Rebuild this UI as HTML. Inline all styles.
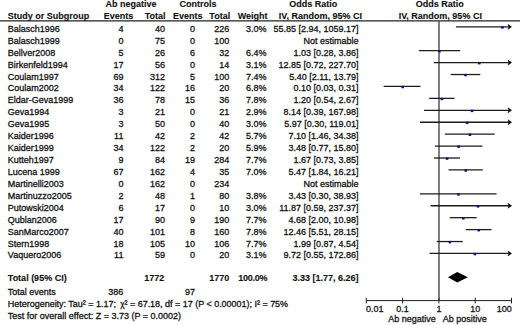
<!DOCTYPE html>
<html><head><meta charset="utf-8"><style>
html,body{margin:0;padding:0;background:#fff;}
body{width:520px;height:325px;overflow:hidden;}
svg{display:block;}
text{font-family:"Liberation Sans",sans-serif;font-size:9.0px;fill:#111;stroke:#111;stroke-width:0.28px;}
text[font-weight=bold]{stroke-width:0.12px;}
</style></head><body>
<svg width="520" height="325" viewBox="0 0 520 325">
<line x1="0" y1="20.8" x2="520" y2="20.8" stroke="#222" stroke-width="1.3"/>
<line x1="439.00" y1="20.8" x2="439.00" y2="300.60" stroke="#555" stroke-width="1.5"/>
<line x1="366.30" y1="300.60" x2="511.50" y2="300.60" stroke="#222" stroke-width="1"/>
<line x1="366.30" y1="297.80" x2="366.30" y2="303.40" stroke="#222" stroke-width="1"/>
<line x1="402.60" y1="297.80" x2="402.60" y2="303.40" stroke="#222" stroke-width="1"/>
<line x1="438.90" y1="297.80" x2="438.90" y2="303.40" stroke="#222" stroke-width="1"/>
<line x1="475.20" y1="297.80" x2="475.20" y2="303.40" stroke="#222" stroke-width="1"/>
<line x1="511.50" y1="297.80" x2="511.50" y2="303.40" stroke="#222" stroke-width="1"/>
<line x1="455.90" y1="26.80" x2="510.00" y2="26.80" stroke="#1c1c1c" stroke-width="1.3"/>
<path d="M508.00,24.40 L511.50,26.80 L508.00,29.20 L509.20,26.80 Z" fill="#000" stroke="#000" stroke-width="0.6" stroke-linejoin="round"/>
<rect x="501.12" y="26.20" width="2.6" height="2.4" fill="#10107e"/>
<line x1="418.83" y1="50.66" x2="460.19" y2="50.66" stroke="#1c1c1c" stroke-width="1.3"/>
<rect x="438.17" y="50.06" width="2.6" height="2.4" fill="#10107e"/>
<line x1="433.72" y1="62.59" x2="510.00" y2="62.59" stroke="#1c1c1c" stroke-width="1.3"/>
<path d="M508.00,60.19 L511.50,62.59 L508.00,64.99 L509.20,62.59 Z" fill="#000" stroke="#000" stroke-width="0.6" stroke-linejoin="round"/>
<rect x="477.95" y="61.99" width="2.6" height="2.4" fill="#10107e"/>
<line x1="450.67" y1="74.52" x2="480.27" y2="74.52" stroke="#1c1c1c" stroke-width="1.3"/>
<rect x="464.29" y="73.92" width="2.6" height="2.4" fill="#10107e"/>
<line x1="383.62" y1="86.45" x2="420.44" y2="86.45" stroke="#1c1c1c" stroke-width="1.3"/>
<rect x="401.40" y="85.85" width="2.6" height="2.4" fill="#10107e"/>
<line x1="429.19" y1="98.38" x2="454.38" y2="98.38" stroke="#1c1c1c" stroke-width="1.3"/>
<rect x="440.57" y="97.78" width="2.6" height="2.4" fill="#10107e"/>
<line x1="424.06" y1="110.31" x2="510.00" y2="110.31" stroke="#1c1c1c" stroke-width="1.3"/>
<path d="M508.00,107.91 L511.50,110.31 L508.00,112.71 L509.20,110.31 Z" fill="#000" stroke="#000" stroke-width="0.6" stroke-linejoin="round"/>
<rect x="470.76" y="109.71" width="2.6" height="2.4" fill="#10107e"/>
<line x1="419.92" y1="122.24" x2="510.00" y2="122.24" stroke="#1c1c1c" stroke-width="1.3"/>
<path d="M508.00,119.84 L511.50,122.24 L508.00,124.64 L509.20,122.24 Z" fill="#000" stroke="#000" stroke-width="0.6" stroke-linejoin="round"/>
<rect x="465.87" y="121.64" width="2.6" height="2.4" fill="#10107e"/>
<line x1="444.87" y1="134.17" x2="494.67" y2="134.17" stroke="#1c1c1c" stroke-width="1.3"/>
<rect x="468.60" y="133.57" width="2.6" height="2.4" fill="#10107e"/>
<line x1="434.78" y1="146.10" x2="482.41" y2="146.10" stroke="#1c1c1c" stroke-width="1.3"/>
<rect x="457.36" y="145.50" width="2.6" height="2.4" fill="#10107e"/>
<line x1="433.94" y1="158.03" x2="460.15" y2="158.03" stroke="#1c1c1c" stroke-width="1.3"/>
<rect x="445.78" y="157.43" width="2.6" height="2.4" fill="#10107e"/>
<line x1="448.51" y1="169.96" x2="482.82" y2="169.96" stroke="#1c1c1c" stroke-width="1.3"/>
<rect x="464.49" y="169.36" width="2.6" height="2.4" fill="#10107e"/>
<line x1="419.92" y1="193.82" x2="496.63" y2="193.82" stroke="#1c1c1c" stroke-width="1.3"/>
<rect x="457.13" y="193.22" width="2.6" height="2.4" fill="#10107e"/>
<line x1="430.58" y1="205.75" x2="510.00" y2="205.75" stroke="#1c1c1c" stroke-width="1.3"/>
<path d="M508.00,203.35 L511.50,205.75 L508.00,208.15 L509.20,205.75 Z" fill="#000" stroke="#000" stroke-width="0.6" stroke-linejoin="round"/>
<rect x="476.70" y="205.15" width="2.6" height="2.4" fill="#10107e"/>
<line x1="449.83" y1="217.68" x2="476.67" y2="217.68" stroke="#1c1c1c" stroke-width="1.3"/>
<rect x="462.03" y="217.08" width="2.6" height="2.4" fill="#10107e"/>
<line x1="465.80" y1="229.61" x2="491.52" y2="229.61" stroke="#1c1c1c" stroke-width="1.3"/>
<rect x="477.47" y="229.01" width="2.6" height="2.4" fill="#10107e"/>
<line x1="436.70" y1="241.54" x2="462.75" y2="241.54" stroke="#1c1c1c" stroke-width="1.3"/>
<rect x="448.55" y="240.94" width="2.6" height="2.4" fill="#10107e"/>
<line x1="429.48" y1="253.47" x2="510.00" y2="253.47" stroke="#1c1c1c" stroke-width="1.3"/>
<path d="M508.00,251.07 L511.50,253.47 L508.00,255.87 L509.20,253.47 Z" fill="#000" stroke="#000" stroke-width="0.6" stroke-linejoin="round"/>
<rect x="473.55" y="252.87" width="2.6" height="2.4" fill="#10107e"/>
<path d="M447.90,277.30 L457.26,272.10 L467.82,277.30 L457.26,282.50 Z" fill="#000"/>
<text x="105.50" y="6.80" font-weight="bold">Ab negative</text>
<text x="179.50" y="6.80" font-weight="bold">Controls</text>
<text x="313.30" y="6.80" text-anchor="middle" font-weight="bold">Odds Ratio</text>
<text x="439.70" y="6.80" text-anchor="middle" font-weight="bold">Odds Ratio</text>
<text x="7.80" y="18.60" font-weight="bold">Study or Subgroup</text>
<text x="133.20" y="18.60" text-anchor="end" font-weight="bold">Events</text>
<text x="165.50" y="18.60" text-anchor="end" font-weight="bold">Total</text>
<text x="202.60" y="18.60" text-anchor="end" font-weight="bold">Events</text>
<text x="230.20" y="18.60" text-anchor="end" font-weight="bold">Total</text>
<text x="267.60" y="18.60" text-anchor="end" font-weight="bold">Weight</text>
<text x="362.00" y="18.60" text-anchor="end" font-weight="bold">IV, Random, 95% CI</text>
<text x="440.30" y="18.60" text-anchor="middle" font-weight="bold">IV, Random, 95% CI</text>
<text x="7.80" y="31.80">Balasch1996</text>
<text x="123.40" y="31.80" text-anchor="end">4</text>
<text x="165.00" y="31.80" text-anchor="end">40</text>
<text x="195.00" y="31.80" text-anchor="end">0</text>
<text x="229.20" y="31.80" text-anchor="end">226</text>
<text x="266.60" y="31.80" text-anchor="end">3.0%</text>
<text x="358.60" y="31.80" text-anchor="end">55.85 [2.94, 1059.17]</text>
<text x="7.80" y="43.73">Balasch1999</text>
<text x="123.40" y="43.73" text-anchor="end">0</text>
<text x="165.00" y="43.73" text-anchor="end">75</text>
<text x="195.00" y="43.73" text-anchor="end">0</text>
<text x="229.20" y="43.73" text-anchor="end">100</text>
<text x="358.60" y="43.73" text-anchor="end">Not estimable</text>
<text x="7.80" y="55.66">Bellver2008</text>
<text x="123.40" y="55.66" text-anchor="end">5</text>
<text x="165.00" y="55.66" text-anchor="end">26</text>
<text x="195.00" y="55.66" text-anchor="end">6</text>
<text x="229.20" y="55.66" text-anchor="end">32</text>
<text x="266.60" y="55.66" text-anchor="end">6.4%</text>
<text x="358.60" y="55.66" text-anchor="end">1.03 [0.28, 3.86]</text>
<text x="7.80" y="67.59">Birkenfeld1994</text>
<text x="123.40" y="67.59" text-anchor="end">17</text>
<text x="165.00" y="67.59" text-anchor="end">56</text>
<text x="195.00" y="67.59" text-anchor="end">0</text>
<text x="229.20" y="67.59" text-anchor="end">14</text>
<text x="266.60" y="67.59" text-anchor="end">3.1%</text>
<text x="358.60" y="67.59" text-anchor="end">12.85 [0.72, 227.70]</text>
<text x="7.80" y="79.52">Coulam1997</text>
<text x="123.40" y="79.52" text-anchor="end">69</text>
<text x="165.00" y="79.52" text-anchor="end">312</text>
<text x="195.00" y="79.52" text-anchor="end">5</text>
<text x="229.20" y="79.52" text-anchor="end">100</text>
<text x="266.60" y="79.52" text-anchor="end">7.4%</text>
<text x="358.60" y="79.52" text-anchor="end">5.40 [2.11, 13.79]</text>
<text x="7.80" y="91.45">Coulam2002</text>
<text x="123.40" y="91.45" text-anchor="end">34</text>
<text x="165.00" y="91.45" text-anchor="end">122</text>
<text x="195.00" y="91.45" text-anchor="end">16</text>
<text x="229.20" y="91.45" text-anchor="end">20</text>
<text x="266.60" y="91.45" text-anchor="end">6.8%</text>
<text x="358.60" y="91.45" text-anchor="end">0.10 [0.03, 0.31]</text>
<text x="7.80" y="103.38">Eldar-Geva1999</text>
<text x="123.40" y="103.38" text-anchor="end">36</text>
<text x="165.00" y="103.38" text-anchor="end">78</text>
<text x="195.00" y="103.38" text-anchor="end">15</text>
<text x="229.20" y="103.38" text-anchor="end">36</text>
<text x="266.60" y="103.38" text-anchor="end">7.8%</text>
<text x="358.60" y="103.38" text-anchor="end">1.20 [0.54, 2.67]</text>
<text x="7.80" y="115.31">Geva1994</text>
<text x="123.40" y="115.31" text-anchor="end">3</text>
<text x="165.00" y="115.31" text-anchor="end">21</text>
<text x="195.00" y="115.31" text-anchor="end">0</text>
<text x="229.20" y="115.31" text-anchor="end">21</text>
<text x="266.60" y="115.31" text-anchor="end">2.9%</text>
<text x="358.60" y="115.31" text-anchor="end">8.14 [0.39, 167.98]</text>
<text x="7.80" y="127.24">Geva1995</text>
<text x="123.40" y="127.24" text-anchor="end">3</text>
<text x="165.00" y="127.24" text-anchor="end">50</text>
<text x="195.00" y="127.24" text-anchor="end">0</text>
<text x="229.20" y="127.24" text-anchor="end">40</text>
<text x="266.60" y="127.24" text-anchor="end">3.0%</text>
<text x="358.60" y="127.24" text-anchor="end">5.97 [0.30, 119.01]</text>
<text x="7.80" y="139.17">Kaider1996</text>
<text x="123.40" y="139.17" text-anchor="end">11</text>
<text x="165.00" y="139.17" text-anchor="end">42</text>
<text x="195.00" y="139.17" text-anchor="end">2</text>
<text x="229.20" y="139.17" text-anchor="end">42</text>
<text x="266.60" y="139.17" text-anchor="end">5.7%</text>
<text x="358.60" y="139.17" text-anchor="end">7.10 [1.46, 34.38]</text>
<text x="7.80" y="151.10">Kaider1999</text>
<text x="123.40" y="151.10" text-anchor="end">34</text>
<text x="165.00" y="151.10" text-anchor="end">122</text>
<text x="195.00" y="151.10" text-anchor="end">2</text>
<text x="229.20" y="151.10" text-anchor="end">20</text>
<text x="266.60" y="151.10" text-anchor="end">5.9%</text>
<text x="358.60" y="151.10" text-anchor="end">3.48 [0.77, 15.80]</text>
<text x="7.80" y="163.03">Kutteh1997</text>
<text x="123.40" y="163.03" text-anchor="end">9</text>
<text x="165.00" y="163.03" text-anchor="end">84</text>
<text x="195.00" y="163.03" text-anchor="end">19</text>
<text x="229.20" y="163.03" text-anchor="end">284</text>
<text x="266.60" y="163.03" text-anchor="end">7.7%</text>
<text x="358.60" y="163.03" text-anchor="end">1.67 [0.73, 3.85]</text>
<text x="7.80" y="174.96">Lucena 1999</text>
<text x="123.40" y="174.96" text-anchor="end">67</text>
<text x="165.00" y="174.96" text-anchor="end">162</text>
<text x="195.00" y="174.96" text-anchor="end">4</text>
<text x="229.20" y="174.96" text-anchor="end">35</text>
<text x="266.60" y="174.96" text-anchor="end">7.0%</text>
<text x="358.60" y="174.96" text-anchor="end">5.47 [1.84, 16.21]</text>
<text x="7.80" y="186.89">Martinelli2003</text>
<text x="123.40" y="186.89" text-anchor="end">0</text>
<text x="165.00" y="186.89" text-anchor="end">162</text>
<text x="195.00" y="186.89" text-anchor="end">0</text>
<text x="229.20" y="186.89" text-anchor="end">234</text>
<text x="358.60" y="186.89" text-anchor="end">Not estimable</text>
<text x="7.80" y="198.82">Martinuzzo2005</text>
<text x="123.40" y="198.82" text-anchor="end">2</text>
<text x="165.00" y="198.82" text-anchor="end">48</text>
<text x="195.00" y="198.82" text-anchor="end">1</text>
<text x="229.20" y="198.82" text-anchor="end">80</text>
<text x="266.60" y="198.82" text-anchor="end">3.8%</text>
<text x="358.60" y="198.82" text-anchor="end">3.43 [0.30, 38.93]</text>
<text x="7.80" y="210.75">Putowski2004</text>
<text x="123.40" y="210.75" text-anchor="end">6</text>
<text x="165.00" y="210.75" text-anchor="end">17</text>
<text x="195.00" y="210.75" text-anchor="end">0</text>
<text x="229.20" y="210.75" text-anchor="end">10</text>
<text x="266.60" y="210.75" text-anchor="end">3.0%</text>
<text x="358.60" y="210.75" text-anchor="end">11.87 [0.59, 237.37]</text>
<text x="7.80" y="222.68">Qublan2006</text>
<text x="123.40" y="222.68" text-anchor="end">17</text>
<text x="165.00" y="222.68" text-anchor="end">90</text>
<text x="195.00" y="222.68" text-anchor="end">9</text>
<text x="229.20" y="222.68" text-anchor="end">190</text>
<text x="266.60" y="222.68" text-anchor="end">7.7%</text>
<text x="358.60" y="222.68" text-anchor="end">4.68 [2.00, 10.98]</text>
<text x="7.80" y="234.61">SanMarco2007</text>
<text x="123.40" y="234.61" text-anchor="end">40</text>
<text x="165.00" y="234.61" text-anchor="end">101</text>
<text x="195.00" y="234.61" text-anchor="end">8</text>
<text x="229.20" y="234.61" text-anchor="end">160</text>
<text x="266.60" y="234.61" text-anchor="end">7.8%</text>
<text x="358.60" y="234.61" text-anchor="end">12.46 [5.51, 28.15]</text>
<text x="7.80" y="246.54">Stern1998</text>
<text x="123.40" y="246.54" text-anchor="end">18</text>
<text x="165.00" y="246.54" text-anchor="end">105</text>
<text x="195.00" y="246.54" text-anchor="end">10</text>
<text x="229.20" y="246.54" text-anchor="end">106</text>
<text x="266.60" y="246.54" text-anchor="end">7.7%</text>
<text x="358.60" y="246.54" text-anchor="end">1.99 [0.87, 4.54]</text>
<text x="7.80" y="258.47">Vaquero2006</text>
<text x="123.40" y="258.47" text-anchor="end">11</text>
<text x="165.00" y="258.47" text-anchor="end">59</text>
<text x="195.00" y="258.47" text-anchor="end">0</text>
<text x="229.20" y="258.47" text-anchor="end">20</text>
<text x="266.60" y="258.47" text-anchor="end">3.1%</text>
<text x="358.60" y="258.47" text-anchor="end">9.72 [0.55, 172.86]</text>
<text x="7.80" y="281.20" font-weight="bold">Total (95% CI)</text>
<text x="164.30" y="281.20" text-anchor="end" font-weight="bold">1772</text>
<text x="229.20" y="281.20" text-anchor="end" font-weight="bold">1770</text>
<text x="267.40" y="281.20" text-anchor="end" font-weight="bold" letter-spacing="-0.22">100.0%</text>
<text x="358.60" y="281.20" text-anchor="end" font-weight="bold">3.33 [1.77, 6.26]</text>
<text x="7.80" y="294.50">Total events</text>
<text x="123.40" y="294.50" text-anchor="end">386</text>
<text x="195.00" y="294.50" text-anchor="end">97</text>
<text x="7.80" y="306.90" letter-spacing="-0.02">Heterogeneity: Tau² = 1.17; <tspan dx="1.8" font-size="8.2">χ</tspan>² = 67.18, df = 17 (P &lt; 0.00001); I² = 75%</text>
<text x="7.80" y="318.60">Test for overall effect: Z = 3.73 (P = 0.0002)</text>
<text x="366.00" y="312.00">0.01</text>
<text x="402.60" y="312.00" text-anchor="middle">0.1</text>
<text x="438.90" y="312.00" text-anchor="middle">1</text>
<text x="475.20" y="312.00" text-anchor="middle">10</text>
<text x="511.70" y="312.00" text-anchor="end">100</text>
<text x="435.70" y="322.30" text-anchor="end">Ab negative</text>
<text x="442.80" y="322.30">Ab positive</text>
</svg>
</body></html>
